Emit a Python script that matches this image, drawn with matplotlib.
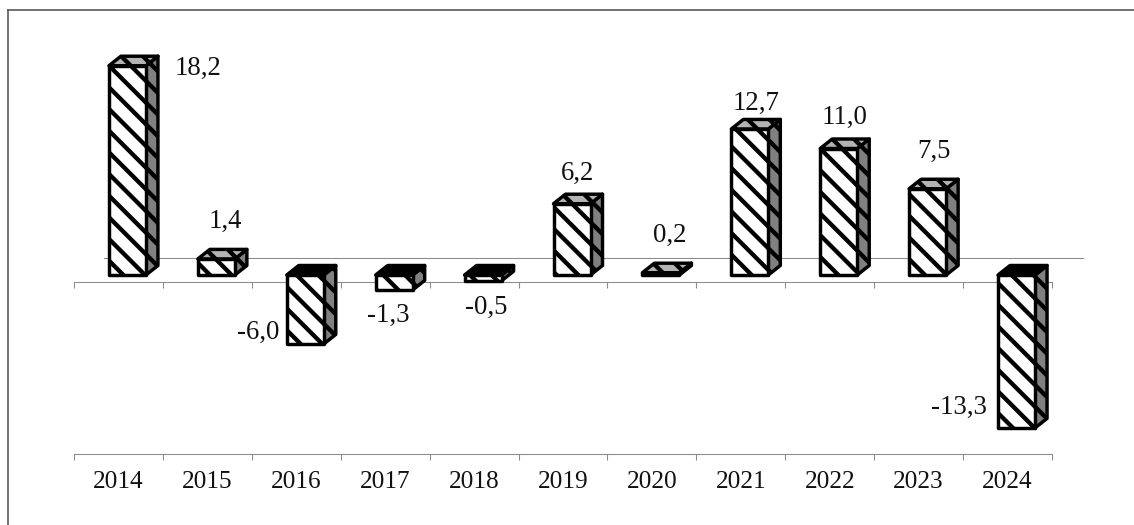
import matplotlib
matplotlib.use('Agg')
import matplotlib.pyplot as plt
from matplotlib.patches import Polygon
from matplotlib.lines import Line2D

years = ['2014', '2015', '2016', '2017', '2018', '2019', '2020', '2021', '2022', '2023', '2024']
values = [18.2, 1.4, -6.0, -1.3, -0.5, 6.2, 0.2, 12.7, 11.0, 7.5, -13.3]

# label offsets from the bar top, in pixels
label_dx = [80, 18, -38, 3, 12, 15, 18, 15, 15, 15, -49]
label_dy = [-3, 37, 12, -25, -27, 30, 37, 26, 31, 37, 21]

W, H, DPI = 1134, 525, 130
plt.rcParams['font.family'] = ['Liberation Serif', 'DejaVu Serif']
plt.rcParams['hatch.linewidth'] = 2.4

# layout in pixels
left, right = 74, 1052
floor_y, top_y = 454, 30
zero_y = 275
px_per_unit = 11.5
px_per_cat = (right - left) / len(years)

fig = plt.figure(figsize=(W / DPI, H / DPI), dpi=DPI)
ax = fig.add_axes([left / W, 1 - floor_y / H, (right - left) / W, (floor_y - top_y) / H])
ax.set_xlim(-0.5, len(years) - 0.5)
ax.set_ylim((zero_y - floor_y) / px_per_unit, (zero_y - top_y) / px_per_unit)
ax.patch.set_visible(False)
ax.set_zorder(2)

for s in ['top', 'left', 'right']:
    ax.spines[s].set_visible(False)
ax.spines['bottom'].set_color('#8c8c8c')
ax.spines['bottom'].set_linewidth(0.6)
edges = [i - 0.5 for i in range(len(years) + 1)]
ax.set_xticks(edges)
ax.set_xticklabels([])
ax.set_xticks(range(len(years)), labels=years, minor=True)
ax.tick_params(axis='x', which='major', length=3.3, width=0.6, color='#8c8c8c')
ax.tick_params(axis='x', which='minor', length=0, labelsize=14, pad=9.5, labelcolor='#111111')
ax.set_yticks([])

# upper axis line, same ticks, behind the bars
ax2 = fig.add_axes([left / W, 1 - 282 / H, (right - left) / W, 0.0001])
ax2.set_xlim(ax.get_xlim())
for s in ['top', 'left', 'right']:
    ax2.spines[s].set_visible(False)
ax2.spines['bottom'].set_color('#8c8c8c')
ax2.spines['bottom'].set_linewidth(0.6)
ax2.set_xticks(edges)
ax2.set_xticklabels([])
ax2.set_yticks([])
ax2.tick_params(axis='x', length=3.3, width=0.6, color='#8c8c8c')
ax2.set_zorder(1)

# back wall line
wall = (zero_y - 258) / px_per_unit
ax.plot([(104 - 118.5) / px_per_cat, (1083 - 118.5) / px_per_cat], [wall, wall],
        color='#8c8c8c', lw=0.6, clip_on=False, zorder=1)

# 3D bars
shift = 9 / px_per_cat
half = 18.5 / px_per_cat
dx = 12 / px_per_cat
dy = 9.5 / px_per_unit
lw = 1.9

for i, v in enumerate(values):
    x0 = i + shift - half
    x1 = i + shift + half
    top = max(v, 0)
    bottom = min(v, 0)
    top_color = '#b4b4b4' if v > 0 else 'black'
    front = Polygon([(x0, bottom), (x1, bottom), (x1, top), (x0, top)],
                    facecolor='white', edgecolor='black', hatch='\\\\', lw=lw, zorder=3, joinstyle='round')
    side = Polygon([(x1, bottom), (x1 + dx, bottom + dy), (x1 + dx, top + dy), (x1, top)],
                   facecolor='#808080', edgecolor='black', hatch='\\\\', lw=lw, zorder=3, joinstyle='round')
    roof = Polygon([(x0, top), (x1, top), (x1 + dx, top + dy), (x0 + dx, top + dy)],
                   facecolor=top_color, edgecolor='black', hatch='\\\\', lw=lw, zorder=4, joinstyle='round')
    ax.add_patch(side)
    ax.add_patch(front)
    ax.add_patch(roof)
    ax.annotate(f'{v:.1f}'.replace('.', ','), xy=(i, v), xytext=(label_dx[i], label_dy[i]),
                textcoords='offset pixels', ha='center', va='center',
                fontsize=14.8, color='#111111', zorder=5)

# picture frame, open at right and bottom
frame = '#555555'
fig.add_artist(Line2D([7.5 / W, 7.5 / W], [0, 1 - 9.5 / H], color=frame, lw=0.9))
fig.add_artist(Line2D([7.5 / W, 1], [1 - 9.5 / H, 1 - 9.5 / H], color=frame, lw=0.9))

fig.savefig('out.png', dpi=DPI)
